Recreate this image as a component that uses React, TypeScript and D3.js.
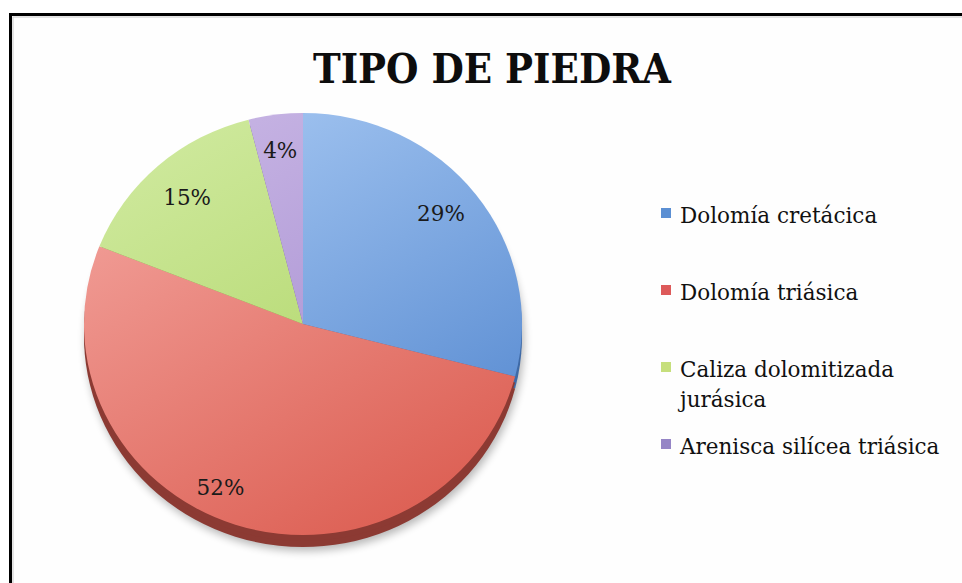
import React from 'react';
import * as d3 from 'd3';

// datos del gráfico
const categories = ['Dolomía cretácica', 'Dolomía triásica', 'Caliza dolomitizada jurásica', 'Arenisca silícea triásica'];
const values = [29, 52, 15, 4];
const legendLines = [['Dolomía cretácica'], ['Dolomía triásica'], ['Caliza dolomitizada', 'jurásica'], ['Arenisca silícea triásica']];
const title = 'TIPO DE PIEDRA';

const topColors = ['#a8c9f3', '#f4a6a0', '#d0eaa0', '#c9b7e5'];
const bottomColors = ['#5387cf', '#dc5e52', '#a9d15c', '#a086cd'];
const sideColors = ['#3f6aa6', '#8c3a33', '#7f9a42', '#6f5c94'];
const legendColors = ['#5b8fd3', '#dd5a5a', '#c6df7c', '#9585c6'];

const W = 962;
const H = 583;
const cx = 303;
const cy = 324;
const rx = 219;
const ry = 211;
const depth = 12;
const font = "'DejaVu Serif', serif";

export default function App() {
  const pie = d3.pie<number>().sort(null).value(d => d);
  const arcs = pie(values);
  const arc = d3.arc<d3.PieArcDatum<number>>().innerRadius(0).outerRadius(rx);
  const sy = ry / rx;

  // posición de las etiquetas (Excel "mejor ajuste")
  const labelR = [0.82, 0.86, 0.8, 0.83];
  const nudge = [-2, 8, 0, 0].map(d => (d * Math.PI) / 180);
  const labels = arcs.map((a, i) => {
    const ang = (a.startAngle + a.endAngle) / 2 + nudge[i];
    return {
      x: cx + Math.sin(ang) * rx * labelR[i],
      y: cy - Math.cos(ang) * ry * labelR[i],
      text: `${Math.round(a.data)}%`,
    };
  });

  const legendX = 661;
  const legendY = d3.scaleLinear().domain([0, 1]).range([223, 300]);
  const lineH = 30;

  return (
    <svg width={W} height={H} style={{ position: 'absolute', left: 0, top: 0, background: '#fff' }}>
      <defs>
        {topColors.map((c, i) => (
          <linearGradient key={i} id={`g${i}`} gradientUnits="userSpaceOnUse" x1={-rx * 0.7} y1={-rx} x2={rx * 0.5} y2={rx}>
            <stop offset="0%" stopColor={c} />
            <stop offset="100%" stopColor={bottomColors[i]} />
          </linearGradient>
        ))}
        <filter id="sh" x="-20%" y="-20%" width="140%" height="140%">
          <feGaussianBlur stdDeviation="4" />
        </filter>
      </defs>

      {/* marco */}
      <rect x={10.5} y={14.5} width={1000} height={620} fill="#fefefe" stroke="#000" strokeWidth={3} />
      <rect x={13} y={17} width={1000} height={620} fill="none" stroke="#c8c8c8" strokeWidth={1} />

      <text x={492} y={83} textAnchor="middle" fontFamily={font} fontWeight="bold" fontSize={41} textLength={358} lengthAdjust="spacingAndGlyphs" fill="#0d0d0d">
        {title}
      </text>

      {/* sombra */}
      <ellipse cx={cx + 2} cy={cy + depth + 4} rx={rx} ry={ry} fill="#000" opacity={0.28} filter="url(#sh)" />

      {/* lateral */}
      <g transform={`translate(${cx},${cy + depth}) scale(1,${sy})`}>
        {arcs.map((a, i) => (
          <path key={i} d={arc(a) || ''} fill={sideColors[i]} />
        ))}
      </g>
      <g transform={`translate(${cx},${cy + depth / 2}) scale(1,${sy})`}>
        {arcs.map((a, i) => (
          <path key={i} d={arc(a) || ''} fill={sideColors[i]} />
        ))}
      </g>

      {/* cara superior */}
      <g transform={`translate(${cx},${cy}) scale(1,${sy})`}>
        {arcs.map((a, i) => (
          <path key={i} d={arc(a) || ''} fill={`url(#g${i})`} />
        ))}
      </g>

      {labels.map((l, i) => (
        <text key={i} x={l.x} y={l.y} dy="0.36em" textAnchor="middle" fontFamily={font} fontSize={21.5} fill="#1a1a1a">
          {l.text}
        </text>
      ))}

      {/* leyenda */}
      {legendLines.map((lines, i) => {
        const base = legendY(i);
        return (
          <g key={categories[i]}>
            <rect x={legendX} y={base - 15} width={10} height={10} fill={legendColors[i]} />
            {lines.map((t, j) => (
              <text key={j} x={680} y={base + j * lineH} fontFamily={font} fontSize={21.5} fill="#111">
                {t}
              </text>
            ))}
          </g>
        );
      })}
    </svg>
  );
}
